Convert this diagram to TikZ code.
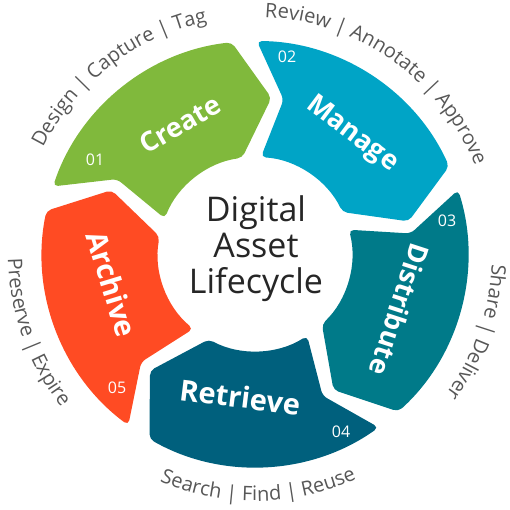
\documentclass[tikz,border=0pt]{standalone}
\usepackage{fontspec}
\setmainfont{Open Sans}
\usetikzlibrary{calc,decorations.text}
\definecolor{creategreen}{HTML}{80B93C}
\definecolor{manageblue}{HTML}{00A4C6}
\definecolor{distteal}{HTML}{007A89}
\definecolor{retrieveblue}{HTML}{00607D}
\definecolor{archivered}{HTML}{FF4B23}
\definecolor{ringgrey}{HTML}{575757}
\newcommand{\ringfont}{\fontsize{20}{24}\selectfont}

\begin{document}
\begin{tikzpicture}[x=1pt,y=1pt,
  seg/.style={rounded corners=5pt},
  stage/.style={text=white,font=\fontsize{27}{30}\selectfont\bfseries,inner sep=0pt},
  bigstage/.style={stage,font=\fontsize{29}{32}\selectfont\bfseries},
  num/.style={text=white,font=\fontsize{16}{18}\selectfont,inner sep=0pt},
  ring/.style={decorate,decoration={text along path,text align=center,text color=ringgrey,text format delimiters={[}{]}}}]
\useasboundingbox (-255,-256) rectangle (255,254);
% the five arrow segments of the ring
\fill[seg,creategreen] (161.5:213) arc[start angle=161.5,end angle=96.3,radius=213] -- (84:157) -- (97.6:97) arc[start angle=97.6,end angle=158.5,radius=97] -- (151.5:157) -- cycle;
\fill[seg,manageblue] (89.5:213) arc[start angle=89.5,end angle=24.3,radius=213] -- (12:157) -- (25.6:97) arc[start angle=25.6,end angle=86.5,radius=97] -- (79.5:157) -- cycle;
\fill[seg,distteal] (17.5:213) arc[start angle=17.5,end angle=-47.7,radius=213] -- (-60:157) -- (-46.4:97) arc[start angle=-46.4,end angle=14.5,radius=97] -- (7.5:157) -- cycle;
\fill[seg,retrieveblue] (-54.5:213) arc[start angle=-54.5,end angle=-119.7,radius=213] -- (-132:157) -- (-118.4:97) arc[start angle=-118.4,end angle=-57.5,radius=97] -- (-64.5:157) -- cycle;
\fill[seg,archivered] (-126.5:213) arc[start angle=-126.5,end angle=-191.7,radius=213] -- (-204:157) -- (-190.4:97) arc[start angle=-190.4,end angle=-129.5,radius=97] -- (-136.5:157) -- cycle;
% stage names
\node[stage,rotate=30] (create) at (120:150) {Create};
\node[stage,rotate=-37] (manage) at (51:154) {Manage};
\node[stage,rotate=-108] (distribute) at (-21:155) {Distribute};
\node[bigstage,rotate=-7] (retrieve) at (-15,-143) {Retrieve};
\node[bigstage,rotate=-73] (archive) at (-143,-30) {Archive};
% step numbers
\node[num] (n01) at (-160,94) {01};
\node[num] (n02) at (32,197) {02};
\node[num] (n03) at (192,33) {03};
\node[num] (n04) at (86,-178) {04};
\node[num] (n05) at (-138,-134) {05};
% centre
\node[align=center,font=\fontsize{34}{36}\selectfont,text=black!85,inner sep=0pt] (title) at (1,5) {Digital\\Asset\\Lifecycle};
% outer captions
\path[ring,decoration={text={[\ringfont]Design | Capture | Tag}}] (177.5:237) arc[start angle=177.5,end angle=77.5,radius=237];
\path[ring,decoration={text={[\ringfont]Review | Annotate | Approve}}] (104.7:237) arc[start angle=104.7,end angle=4.7,radius=237];
\path[ring,decoration={text={[\ringfont]Share | Deliver}}] (30.6:237) arc[start angle=30.6,end angle=-69.4,radius=237];
\path[ring,decoration={text={[\ringfont]Search | Find | Reuse}}] (-139.2:247) arc[start angle=-139.2,end angle=-39.2,radius=247];
\path[ring,decoration={text={[\ringfont]Preserve | Expire}}] (149.7:247) arc[start angle=149.7,end angle=249.7,radius=247];
\end{tikzpicture}
\end{document}
